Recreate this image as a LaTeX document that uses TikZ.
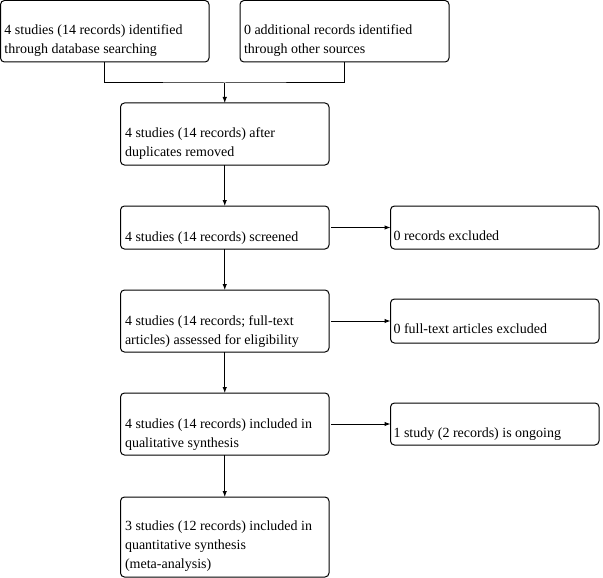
\documentclass[tikz,border=0pt]{standalone}
\usepackage{fontspec}
\setmainfont{Liberation Serif}
\usetikzlibrary{arrows.meta}
\begin{document}
\begin{tikzpicture}[x=1pt,y=1pt,
  box/.style={draw, line width=1pt, rounded corners=4pt, inner sep=0pt, outer sep=0pt},
  txt/.style={inner sep=0pt, outer sep=0pt, align=left, anchor=base west, font=\fontsize{14}{19}\selectfont},
  arr/.style={line width=1pt, -{Latex[length=6pt,width=4.5pt]}},
  ln/.style={line width=1pt}]
\useasboundingbox (0,0) rectangle (603,-578);
% boxes: centre x, centre y, width, height
\node[box, minimum width=208.5pt, minimum height=61.5pt] (A) at (104.75,-31.25) {};
\node[box, minimum width=209pt, minimum height=61.5pt] (B) at (344.5,-31.25) {};
\node[box, minimum width=208.5pt, minimum height=62pt] (C) at (224.75,-134) {};
\node[box, minimum width=208.5pt, minimum height=43pt] (D) at (224.75,-227.5) {};
\node[box, minimum width=208.5pt, minimum height=43pt] (Dr) at (494.75,-227.5) {};
\node[box, minimum width=208.5pt, minimum height=62pt] (E) at (224.75,-321) {};
\node[box, minimum width=208.5pt, minimum height=44pt] (Er) at (494.75,-321) {};
\node[box, minimum width=208.5pt, minimum height=62pt] (F) at (224.75,-424) {};
\node[box, minimum width=208.5pt, minimum height=42pt] (Fr) at (494.75,-424) {};
\node[box, minimum width=208.5pt, minimum height=80pt] (G) at (224.75,-537) {};
% texts (base = baseline of the last line)
\node[txt] (At) at ([xshift=4pt,yshift=8pt]A.south west) {4 studies (14 records) identified\\through database searching};
\node[txt] (Bt) at ([xshift=4pt,yshift=8pt]B.south west) {0 additional records identified\\through other sources};
\node[txt] (Ct) at ([xshift=4.5pt,yshift=8pt]C.south west) {4 studies (14 records) after\\duplicates removed};
\node[txt] (Dt) at ([xshift=4.5pt,yshift=8pt]D.south west) {4 studies (14 records) screened};
\node[txt] (Drt) at ([xshift=3pt,yshift=8.5pt]Dr.south west) {0 records excluded};
\node[txt] (Et) at ([xshift=4.5pt,yshift=8pt]E.south west) {4 studies (14 records; full-text\\articles) assessed for eligibility};
\node[txt] (Ert) at ([xshift=3pt,yshift=9.5pt]Er.south west) {0 full-text articles excluded};
\node[txt] (Ft) at ([xshift=4.5pt,yshift=8pt]F.south west) {4 studies (14 records) included in\\qualitative synthesis};
\node[txt] (Frt) at ([xshift=3pt,yshift=8pt]Fr.south west) {1 study (2 records) is ongoing};
\node[txt] (Gt) at ([xshift=4.5pt,yshift=9pt]G.south west) {3 studies (12 records) included in\\quantitative synthesis\\(meta-analysis)};
% connectors
\coordinate (j) at (C.north |- 0,-83);
\draw[ln] (A.south) |- (j) -| (B.south);
\draw[arr] (j) -- (C.north);
\draw[arr] (C.south) -- (D.north);
\draw[arr] (D.south) -- (E.north);
\draw[arr] (E.south) -- (F.north);
\draw[arr] (F.south) -- (G.north);
\draw[arr, shorten <=2pt] (D.east) -- (Dr.west);
\draw[arr, shorten <=2pt] (E.east) -- (Er.west);
\draw[arr, shorten <=2pt] (F.east) -- (Fr.west);
\end{tikzpicture}
\end{document}
